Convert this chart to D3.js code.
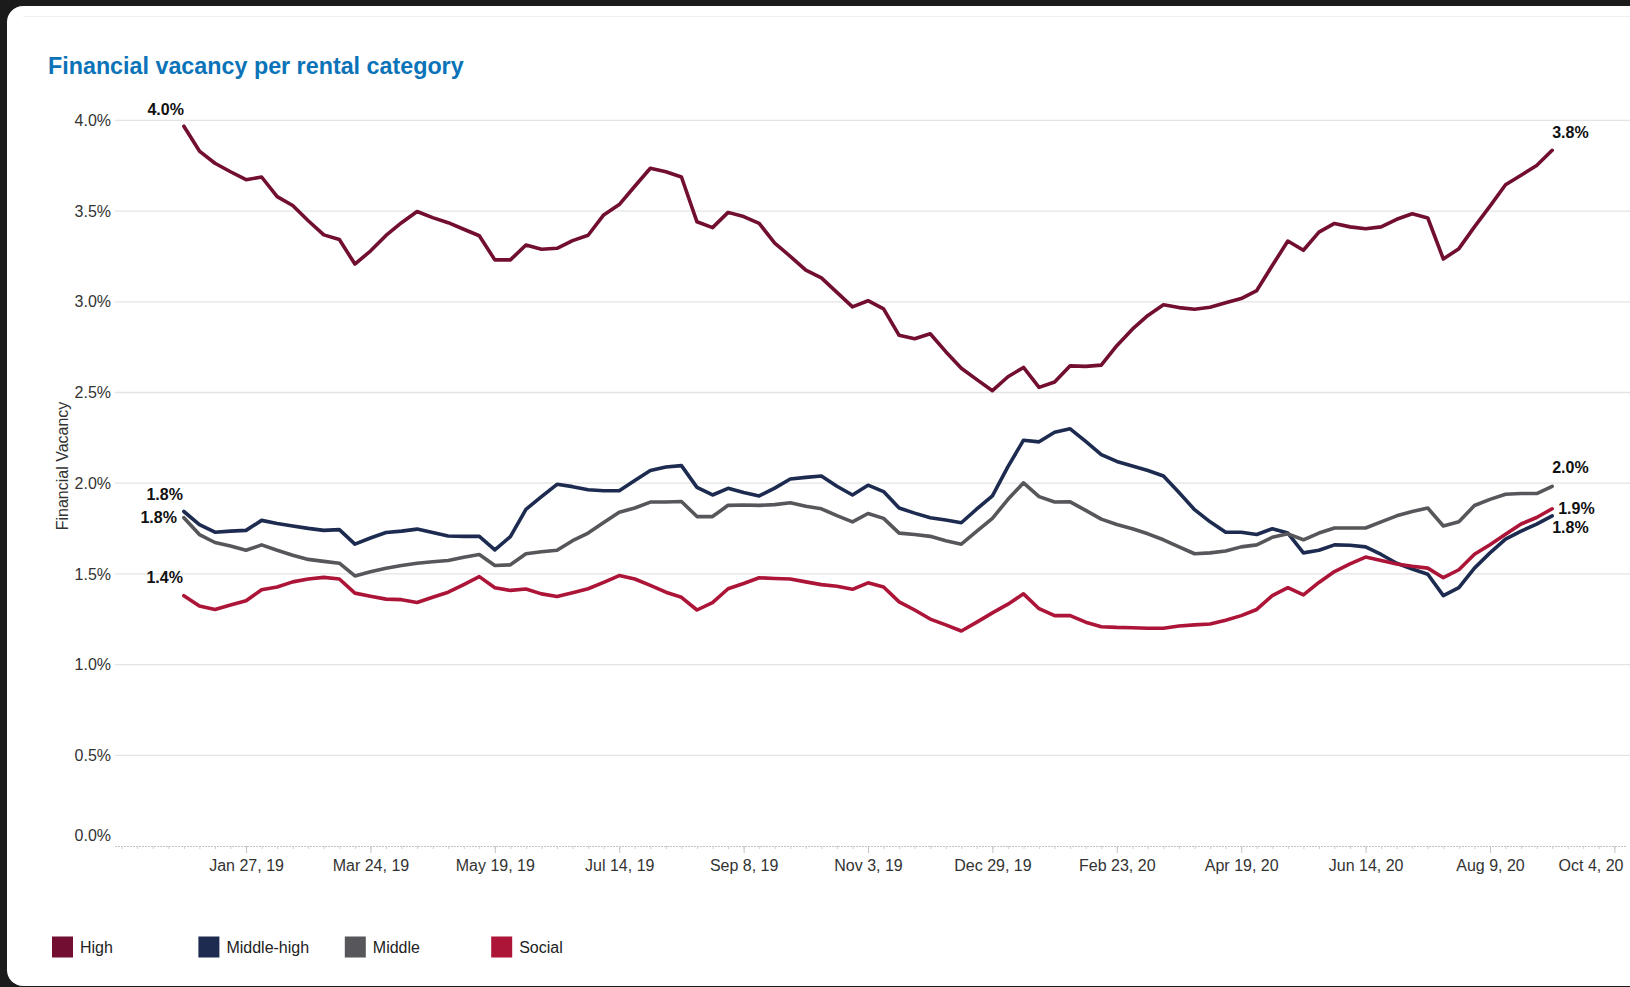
<!DOCTYPE html>
<html>
<head>
<meta charset="utf-8">
<script src="https://cdn.jsdelivr.net/npm/d3@7"></script>
<style>
  body { margin: 0; background: #1b1b1b; overflow: hidden; }
  svg { display: block; font-family: 'Liberation Sans', Arial, sans-serif; }
</style>
</head>
<body>
<div id="chart"></div>
<script>
// weekly observations, first one on this Sunday
const firstWeek = '2018-12-30'

const high = [
  3.968, 3.831, 3.764, 3.717, 3.673, 3.688, 3.58, 3.531, 3.447, 3.369,
  3.343, 3.208, 3.28, 3.366, 3.436, 3.498, 3.464, 3.436, 3.4, 3.364,
  3.231, 3.231, 3.313, 3.29, 3.295, 3.337, 3.367, 3.479, 3.536, 3.637,
  3.736, 3.717, 3.688, 3.441, 3.409, 3.493, 3.47, 3.432, 3.324, 3.251,
  3.175, 3.132, 3.052, 2.972, 3.006, 2.961, 2.815, 2.796, 2.824, 2.725,
  2.634, 2.571, 2.51, 2.587, 2.638, 2.528, 2.558, 2.647, 2.644, 2.651,
  2.758, 2.849, 2.925, 2.984, 2.968, 2.959, 2.97, 2.995, 3.018, 3.062,
  3.2, 3.335, 3.284, 3.384, 3.432, 3.413, 3.403, 3.413, 3.455, 3.485,
  3.462, 3.236, 3.293, 3.413, 3.527, 3.645, 3.698, 3.751, 3.835,
]
const middleHigh = [
  1.844, 1.772, 1.73, 1.736, 1.74, 1.795, 1.778, 1.764, 1.751, 1.74,
  1.744, 1.664, 1.698, 1.728, 1.736, 1.747, 1.728, 1.709, 1.707, 1.707,
  1.633, 1.706, 1.856, 1.926, 1.994, 1.981, 1.964, 1.958, 1.958, 2.015,
  2.07, 2.089, 2.097, 1.977, 1.935, 1.972, 1.949, 1.93, 1.973, 2.023,
  2.032, 2.04, 1.983, 1.935, 1.989, 1.954, 1.863, 1.835, 1.81, 1.797,
  1.782, 1.858, 1.93, 2.091, 2.237, 2.228, 2.281, 2.3, 2.23, 2.158,
  2.12, 2.095, 2.07, 2.04, 1.949, 1.854, 1.787, 1.73, 1.73, 1.717,
  1.749, 1.725, 1.616, 1.63, 1.66, 1.658, 1.649, 1.607, 1.559, 1.527,
  1.498, 1.38, 1.424, 1.532, 1.616, 1.692, 1.736, 1.774, 1.82,
]
const middle = [
  1.81, 1.717, 1.673, 1.654, 1.63, 1.66, 1.63, 1.603, 1.58, 1.569,
  1.559, 1.489, 1.512, 1.531, 1.546, 1.559, 1.567, 1.574, 1.592, 1.607,
  1.546, 1.55, 1.611, 1.622, 1.63, 1.683, 1.725, 1.783, 1.84, 1.863,
  1.896, 1.896, 1.899, 1.816, 1.816, 1.878, 1.88, 1.878, 1.882, 1.892,
  1.873, 1.859, 1.821, 1.787, 1.833, 1.806, 1.725, 1.717, 1.707, 1.683,
  1.664, 1.736, 1.806, 1.911, 2.002, 1.926, 1.896, 1.897, 1.85, 1.802,
  1.772, 1.749, 1.721, 1.688, 1.649, 1.611, 1.616, 1.626, 1.649, 1.66,
  1.702, 1.721, 1.688, 1.725, 1.753, 1.753, 1.753, 1.787, 1.82, 1.844,
  1.863, 1.764, 1.787, 1.877, 1.911, 1.939, 1.943, 1.943, 1.983,
]
const social = [
  1.38, 1.323, 1.304, 1.329, 1.352, 1.413, 1.428, 1.456, 1.472, 1.481,
  1.472, 1.394, 1.377, 1.361, 1.358, 1.342, 1.371, 1.399, 1.441, 1.485,
  1.424, 1.409, 1.417, 1.39, 1.375, 1.396, 1.418, 1.453, 1.491, 1.472,
  1.437, 1.399, 1.371, 1.301, 1.342, 1.418, 1.447, 1.479, 1.475, 1.472,
  1.456, 1.441, 1.432, 1.415, 1.451, 1.428, 1.346, 1.301, 1.251, 1.219,
  1.185, 1.234, 1.285, 1.333, 1.39, 1.308, 1.27, 1.27, 1.234, 1.209,
  1.205, 1.203, 1.2, 1.2, 1.213, 1.219, 1.224, 1.245, 1.27, 1.304,
  1.38, 1.424, 1.384, 1.453, 1.513, 1.555, 1.593, 1.574, 1.555, 1.542,
  1.532, 1.479, 1.523, 1.608, 1.661, 1.718, 1.775, 1.811, 1.859,
]

const seriesNames = ['High', 'Middle-high', 'Middle', 'Social']
const seriesColors = ['#720e31', '#1c2b4f', '#57575b', '#ad1538']

const tickDates = [
  '2019-01-27', '2019-03-24', '2019-05-19', '2019-07-14', '2019-09-08',
  '2019-11-03', '2019-12-29', '2020-02-23', '2020-04-19', '2020-06-14',
  '2020-08-09', '2020-10-04',
]
const yTicks = [0, 0.5, 1, 1.5, 2, 2.5, 3, 3.5, 4]

const width = 1630
const height = 987

// where the first/last value labels sit relative to their point
const startLabelPos = [
  { dx: 0, dy: -11, anchor: 'end' },
  { dx: -1, dy: -11.5, anchor: 'end' },
  { dx: -7, dy: 5, anchor: 'end' },
  { dx: -1, dy: -13, anchor: 'end' },
]
const endLabelPos = [
  { dx: 0, dy: -12, anchor: 'start' },
  { dx: 0, dy: 17, anchor: 'start' },
  { dx: 0, dy: -13, anchor: 'start' },
  { dx: 6, dy: 5, anchor: 'start' },
]

const parseDay = d3.utcParse('%Y-%m-%d')
const start = parseDay(firstWeek)
const weeks = high.map((v, i) => d3.utcDay.offset(start, i * 7))

const series = [high, middleHigh, middle, social].map((values, i) => ({
  name: seriesNames[i],
  color: seriesColors[i],
  points: values.map((v, j) => ({ date: weeks[j], value: v })),
}))

const svg = d3
  .select('#chart')
  .append('svg')
  .attr('width', width)
  .attr('height', height)

// card
svg
  .append('rect')
  .attr('x', 7)
  .attr('y', 6)
  .attr('width', width + 40)
  .attr('height', 980)
  .attr('rx', 16)
  .attr('fill', '#fff')

svg
  .append('line')
  .attr('x1', 23)
  .attr('x2', width)
  .attr('y1', 16.5)
  .attr('y2', 16.5)
  .attr('stroke', '#f0f0f0')

svg
  .append('text')
  .attr('x', 48)
  .attr('y', 74)
  .attr('font-size', 23.3)
  .attr('font-weight', 'bold')
  .attr('fill', '#0b73b8')
  .text('Financial vacancy per rental category')

const xScale = d3
  .scaleUtc()
  .domain([parseDay('2018-11-29'), d3.utcHour.offset(parseDay('2020-10-09'), 12)])
  .range([115, 1626.6])

const yScale = d3.scaleLinear().domain([0, 4]).range([846, 120.4])

// gridlines
svg
  .append('g')
  .attr('class', 'grid')
  .selectAll('line')
  .data(yTicks.filter(d => d > 0))
  .join('line')
  .attr('x1', 115)
  .attr('x2', width)
  .attr('y1', d => yScale(d))
  .attr('y2', d => yScale(d))
  .attr('stroke', '#e4e4e4')
  .attr('stroke-width', 1.3)

// y axis labels
const yAxis = svg
  .append('g')
  .attr('transform', 'translate(115,0)')
  .call(
    d3
      .axisLeft(yScale)
      .tickValues(yTicks)
      .tickFormat(d => `${d3.format('.1f')(d)}%`)
      .tickSize(0)
      .tickPadding(4),
  )
yAxis.select('.domain').remove()
yAxis
  .selectAll('.tick text')
  .attr('font-size', 16)
  .attr('font-family', null)
  .attr('fill', '#333')
// zero label gets lifted above the axis
yAxis
  .selectAll('.tick')
  .filter(d => d === 0)
  .select('text')
  .attr('y', -11)

svg
  .append('text')
  .attr('transform', `translate(68, 466) rotate(-90)`)
  .attr('text-anchor', 'middle')
  .attr('font-size', 16)
  .attr('fill', '#333')
  .text('Financial Vacancy')

// x axis: dotted baseline, weekly minor ticks, 8-weekly major ticks
const xAxis = svg.append('g').attr('class', 'x-axis')
xAxis
  .append('line')
  .attr('x1', 115)
  .attr('x2', 1627)
  .attr('y1', 846.5)
  .attr('y2', 846.5)
  .attr('stroke', '#c4c4c4')
  .attr('stroke-dasharray', '2,1')

xAxis
  .append('g')
  .attr('transform', 'translate(0,846)')
  .call(
    d3
      .axisBottom(xScale)
      .ticks(d3.utcSunday.every(1))
      .tickSize(3)
      .tickFormat(''),
  )
  .call(g => {
    g.select('.domain').remove()
    g.selectAll('.tick line').attr('stroke', '#cfcfcf')
  })

const majorAxis = xAxis
  .append('g')
  .attr('transform', 'translate(0,846)')
  .call(
    d3
      .axisBottom(xScale)
      .tickValues(tickDates.map(parseDay))
      .tickFormat(d3.utcFormat('%b %-d, %y'))
      .tickSize(7)
      .tickPadding(7),
  )
majorAxis.select('.domain').remove()
majorAxis.selectAll('.tick line').attr('stroke', '#c4c4c4')
majorAxis
  .selectAll('.tick text')
  .attr('font-size', 16)
  .attr('font-family', null)
  .attr('fill', '#333')
  .attr('dy', '0.71em')
  .each(function (d) {
    // keep the last label inside the pane
    const w = this.getComputedTextLength()
    const overflow = xScale(d) + w / 2 - 1623
    if (overflow > 0) d3.select(this).attr('x', -overflow)
  })

// lines
const line = d3
  .line()
  .x(d => xScale(d.date))
  .y(d => yScale(d.value))

svg
  .append('g')
  .attr('class', 'lines')
  .selectAll('path')
  .data(series)
  .join('path')
  .attr('d', d => line(d.points))
  .attr('fill', 'none')
  .attr('stroke', d => d.color)
  .attr('stroke-width', 3.6)
  .attr('stroke-linejoin', 'round')
  .attr('stroke-linecap', 'round')

// first and last value labels
const fmt = v => `${d3.format('.1f')(v)}%`
const labels = svg.append('g').attr('class', 'value-labels')
series.forEach((s, i) => {
  const first = s.points[0]
  const last = s.points[s.points.length - 1]
  ;[
    [first, startLabelPos[i]],
    [last, endLabelPos[i]],
  ].forEach(([p, pos]) => {
    labels
      .append('text')
      .attr('x', xScale(p.date) + pos.dx)
      .attr('y', yScale(p.value) + pos.dy)
      .attr('text-anchor', pos.anchor)
      .attr('font-size', 16)
      .attr('font-weight', 'bold')
      .attr('fill', '#111')
      .text(fmt(p.value))
  })
})

// legend
const legend = svg
  .append('g')
  .attr('class', 'legend')
  .selectAll('g')
  .data(series)
  .join('g')
  .attr('transform', (d, i) => `translate(${52 + i * 146.4}, 936.5)`)

legend
  .append('rect')
  .attr('width', 21)
  .attr('height', 21)
  .attr('fill', d => d.color)

legend
  .append('text')
  .attr('x', 28)
  .attr('y', 16.5)
  .attr('font-size', 16)
  .attr('fill', '#222')
  .text(d => d.name)
</script>
</body>
</html>
